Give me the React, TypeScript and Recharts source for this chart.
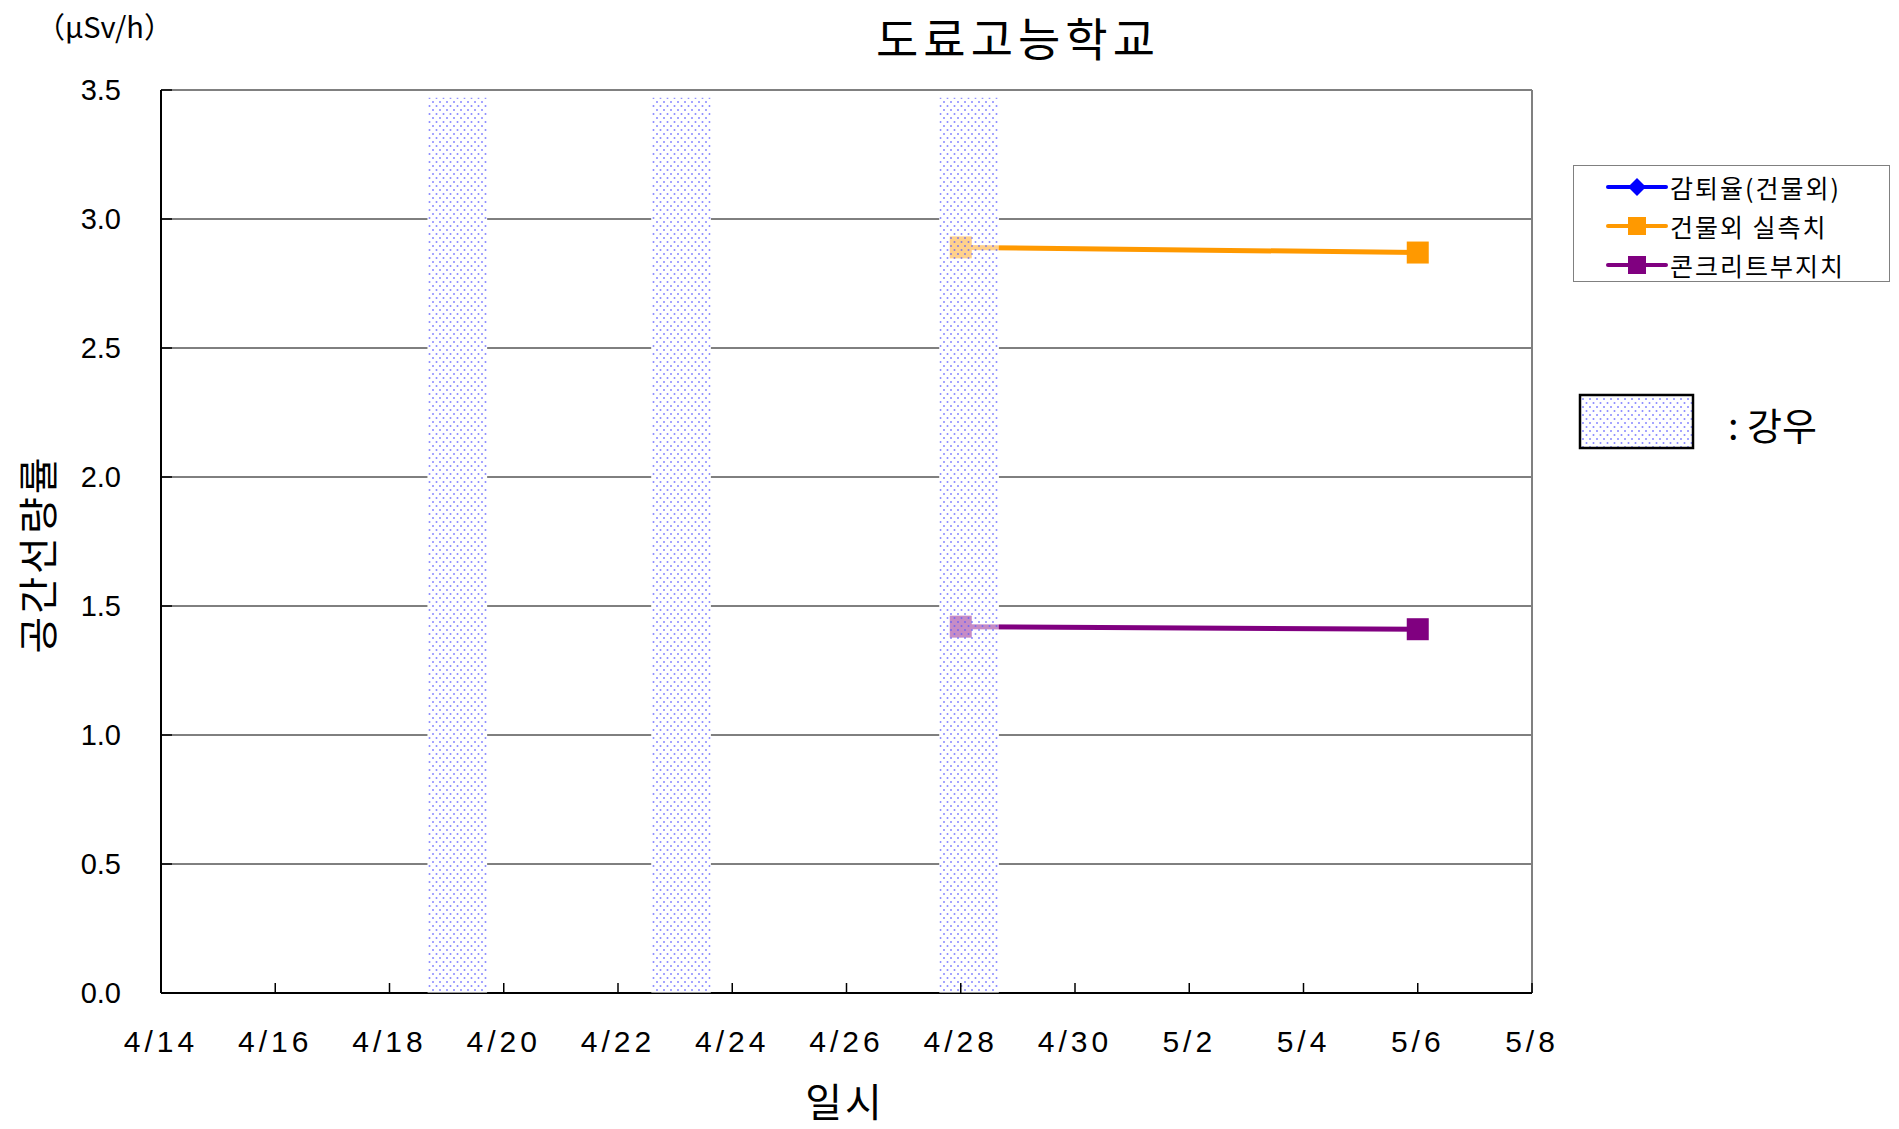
import React from 'react';
import { ComposedChart, Line, XAxis, YAxis, CartesianGrid, ReferenceArea, ReferenceLine } from 'recharts';

// measurement dates and values (μSv/h)
const dates = ['4/28', '5/6'];
const outdoorValues = [2.89, 2.87];
const concreteValues = [1.42, 1.41];
const decayValues: (number | null)[] = [null, null];

const xTickLabels = ['4/14', '4/16', '4/18', '4/20', '4/22', '4/24', '4/26', '4/28', '4/30', '5/2', '5/4', '5/6', '5/8'];
const yTicks = [0, 0.5, 1.0, 1.5, 2.0, 2.5, 3.0, 3.5];

// rainfall periods
const rainStart = ['4/18 16', '4/22 14', '4/27 15'];
const rainEnd = ['4/19 17', '4/23 15', '4/28 16'];

// days since 4/14
const toDay = (s: string) => {
  const [md, h] = s.split(' ');
  const [m, d] = md.split('/').map(Number);
  const base = m === 4 ? d - 14 : 16 + d;
  return base + (h ? Number(h) / 24 : 0);
};

const data = dates.map((d, i) => ({
  day: toDay(d),
  decay: decayValues[i],
  outdoor: outdoorValues[i],
  concrete: concreteValues[i],
}));

const xTicks = xTickLabels.map(toDay);
const labelFor = (v: number) => xTickLabels[xTicks.indexOf(v)] ?? '';

const XTick = (props: any) => {
  const { x, y, payload } = props;
  return (
    <g>
      <line x1={x} y1={y} x2={x} y2={y - 10} stroke="#000" strokeWidth={1.5} />
      <text x={x} y={y + 59} textAnchor="middle" fontSize={30} letterSpacing={4}
        fontFamily="'Liberation Sans', Arial, sans-serif" fill="#000">
        {labelFor(payload.value)}
      </text>
    </g>
  );
};

const YTick = (props: any) => {
  const { x, y, payload } = props;
  return (
    <g>
      <line x1={x + 40} y1={y} x2={x + 51} y2={y} stroke="#000" strokeWidth={1.5} />
      <text x={x} y={y + 10} textAnchor="end" fontSize={29}
        fontFamily="'Liberation Sans', Arial, sans-serif" fill="#000">
        {payload.value.toFixed(1)}
      </text>
    </g>
  );
};

const squareDot = (color: string) => (props: any) => {
  const { cx, cy, index } = props;
  if (cx == null || cy == null) return <g key={index} />;
  return <rect key={index} x={cx - 11} y={cy - 11} width={22} height={22} fill={color} />;
};

const kr = "'Noto Sans CJK KR', sans-serif";

const legendItems = [
  { name: '감퇴율(건물외)', color: '#0000FF', shape: 'diamond' },
  { name: '건물외 실측치', color: '#FF9900', shape: 'square' },
  { name: '콘크리트부지치', color: '#800080', shape: 'square' },
];

const App: React.FC = () => {
  return (
    <div style={{ position: 'relative', width: 1883, height: 1113, background: '#fff' }}>
      <ComposedChart width={1883} height={1113} data={data}
        margin={{ top: 82, right: 359, bottom: 68, left: 73 }}>
        <defs>
          <pattern id="rainDots" width="7" height="8" patternUnits="userSpaceOnUse">
            <rect width="7" height="8" fill="#fff" fillOpacity={0.55} />
            <circle cx="1.5" cy="2" r="1" fill="#5555ff" fillOpacity={0.7} />
            <circle cx="5" cy="6" r="1" fill="#5555ff" fillOpacity={0.7} />
          </pattern>
        </defs>
        <CartesianGrid vertical={false} stroke="#000" strokeWidth={1} />
        <XAxis dataKey="day" type="number" domain={[0, 24]} ticks={xTicks} interval={0}
          height={60} tickSize={0} tickMargin={0} tick={<XTick />}
          axisLine={{ stroke: '#000', strokeWidth: 2 }} tickLine={false} allowDataOverflow />
        <YAxis type="number" domain={[0, 3.5]} ticks={yTicks} interval={0} width={80}
          tickSize={0} tickMargin={40} tick={<YTick />}
          axisLine={{ stroke: '#000', strokeWidth: 2 }} tickLine={false} />
        <ReferenceLine y={3.5} stroke="#808080" strokeWidth={2} />
        <ReferenceLine x={24} stroke="#808080" strokeWidth={2} />
        {rainStart.map((s, i) => (
          <ReferenceArea key={'w' + i} x1={toDay(s)} x2={toDay(rainEnd[i])} y1={0} y2={3.47}
            fill="#fff" fillOpacity={1} stroke="none" zIndex={50} />
        ))}
        <Line dataKey="decay" stroke="#0000FF" strokeWidth={5} isAnimationActive={false} dot={false} />
        <Line dataKey="outdoor" stroke="#FF9900" strokeWidth={5} isAnimationActive={false}
          dot={squareDot('#FF9900')} activeDot={false} />
        <Line dataKey="concrete" stroke="#800080" strokeWidth={5} isAnimationActive={false}
          dot={squareDot('#800080')} activeDot={false} />
        {rainStart.map((s, i) => (
          <ReferenceArea key={'r' + i} x1={toDay(s)} x2={toDay(rainEnd[i])} y1={0} y2={3.47}
            fill="url(#rainDots)" fillOpacity={1} stroke="none" zIndex={900} />
        ))}
      </ComposedChart>

      <div style={{ position: 'absolute', left: 1010, top: 0, transform: 'translateX(-50%)', lineHeight: 1.25,
        fontFamily: kr, fontSize: 46, letterSpacing: 5, whiteSpace: 'nowrap', color: '#000' }}>도료고능학교</div>
      <div style={{ position: 'absolute', left: 28, top: -4, fontFamily: kr, fontSize: 29, color: '#000',
        whiteSpace: 'nowrap' }}>（μSv/h）</div>
      <div style={{ position: 'absolute', left: 28, top: 546, transform: 'translate(-50%, -50%) rotate(-90deg)',
        fontFamily: kr, fontSize: 40, letterSpacing: 3, whiteSpace: 'nowrap', color: '#000' }}>공간선량률</div>
      <div style={{ position: 'absolute', left: 837, top: 1092, transform: 'translate(-50%, -50%)',
        fontFamily: kr, fontSize: 40, letterSpacing: 3, whiteSpace: 'nowrap', color: '#000' }}>일시</div>

      <div style={{ position: 'absolute', left: 1565, top: 157, width: 317, height: 117,
        border: '1.5px solid #808080', boxSizing: 'border-box' }}>
        {legendItems.map((it, i) => (
          <div key={it.name} style={{ position: 'absolute', left: 32, top: 3 + i * 39, height: 36,
            display: 'flex', alignItems: 'center' }}>
            <svg width={62} height={30}>
              <line x1={2} y1={15} x2={60} y2={15} stroke={it.color} strokeWidth={4} strokeLinecap="round" />
              {it.shape === 'diamond'
                ? <polygon points="31,6 40,15 31,24 22,15" fill={it.color} />
                : <rect x={22} y={6} width={18} height={18} fill={it.color} />}
            </svg>
            <span style={{ fontFamily: kr, fontSize: 25, letterSpacing: 2, color: '#000', marginLeft: 2,
              whiteSpace: 'nowrap' }}>{it.name}</span>
          </div>
        ))}
      </div>

      <svg style={{ position: 'absolute', left: 1570, top: 385 }} width={120} height={58}>
        <defs>
          <pattern id="rainDotsLegend" width="7" height="8" patternUnits="userSpaceOnUse">
            <circle cx="1.5" cy="2" r="1" fill="#5555ff" fillOpacity={0.7} />
            <circle cx="5" cy="6" r="1" fill="#5555ff" fillOpacity={0.7} />
          </pattern>
        </defs>
        <rect x={2} y={2} width={113} height={53} fill="url(#rainDotsLegend)" stroke="#000" strokeWidth={2.5} />
      </svg>
      <div style={{ position: 'absolute', left: 1720, top: 388, fontFamily: kr, fontSize: 38,
        color: '#000', whiteSpace: 'nowrap' }}>:  강우</div>
    </div>
  );
};

export default App;
